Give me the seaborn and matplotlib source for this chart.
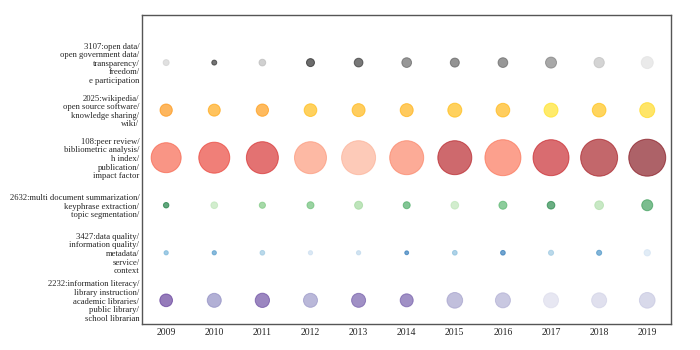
import matplotlib
matplotlib.use("Agg")
import matplotlib.pyplot as plt
import seaborn as sns
import pandas as pd
import numpy as np

years = [2009, 2010, 2011, 2012, 2013, 2014, 2015, 2016, 2017, 2018, 2019]

topic_labels = [
    "3107:open data/\nopen government data/\ntransparency/\nfreedom/\ne participation",
    "2025:wikipedia/\nopen source software/\nknowledge sharing/\nwiki/",
    "108:peer review/\nbibliometric analysis/\nh index/\npublication/\nimpact factor",
    "2632:multi document summarization/\nkeyphrase extraction/\ntopic segmentation/",
    "3427:data quality/\ninformation quality/\nmetadata/\nservice/\ncontext",
    "2232:information literacy/\nlibrary instruction/\nacademic libraries/\npublic library/\nschool librarian",
]
topic_cmaps = ["Greys", "Wistia", "Reds", "Greens", "Blues", "Purples"]

# bubble magnitude (area) per topic per year
freq_3107 = [36, 25, 45, 64, 76, 94, 81, 94, 121, 106, 144]
freq_2025 = [151, 144, 151, 161, 169, 169, 196, 188, 196, 188, 225]
freq_108 = [900, 961, 1024, 1024, 1156, 1156, 1156, 1296, 1296, 1369, 1369]
freq_2632 = [30, 45, 38, 49, 64, 49, 59, 64, 59, 76, 121]
freq_3427 = [18, 18, 22, 18, 18, 15, 22, 22, 26, 26, 40]
freq_2232 = [161, 196, 204, 196, 196, 169, 246, 225, 225, 225, 246]

# colour intensity per topic per year
int_3107 = [0.30, 0.88, 0.40, 0.92, 0.86, 0.72, 0.74, 0.72, 0.62, 0.38, 0.22]
int_2025 = [0.90, 0.75, 0.85, 0.55, 0.60, 0.65, 0.55, 0.60, 0.30, 0.50, 0.35]
int_108 = [0.55, 0.65, 0.72, 0.38, 0.30, 0.45, 0.83, 0.50, 0.77, 0.88, 0.95]
int_2632 = [0.85, 0.30, 0.50, 0.55, 0.40, 0.65, 0.30, 0.60, 0.80, 0.35, 0.70]
int_3427 = [0.50, 0.62, 0.40, 0.25, 0.30, 0.75, 0.45, 0.75, 0.40, 0.65, 0.20]
int_2232 = [0.85, 0.60, 0.80, 0.55, 0.75, 0.75, 0.50, 0.45, 0.25, 0.30, 0.35]

freqs = [freq_3107, freq_2025, freq_108, freq_2632, freq_3427, freq_2232]
intens = [int_3107, int_2025, int_108, int_2632, int_3427, int_2232]

sns.set_style("white")
plt.rcParams["font.family"] = ["Liberation Serif", "DejaVu Serif"]

fig = plt.figure(figsize=(7, 3.5), dpi=100)
ax = fig.add_axes([0.203, 0.074, 0.756, 0.883])

FMAX = 1500
SMAX = FMAX / (100 / 72) ** 2
n = len(topic_labels)
for i, (lab, cmap, fr, it) in enumerate(zip(topic_labels, topic_cmaps, freqs, intens)):
    df = pd.DataFrame({"year": years, "row": n - 1 - i, "freq": fr, "inten": it})
    sns.scatterplot(data=df, x="year", y="row", size="freq", sizes=(0, SMAX),
                    size_norm=(0, FMAX), hue="inten", palette=cmap,
                    hue_norm=(0, 1), alpha=0.63, edgecolor="face",
                    linewidth=0.7, legend=False, ax=ax)

ax.set_xlim(years[0] - 0.5, years[-1] + 0.5)
ax.set_ylim(-0.5, n)
ax.set_xticks(years)
ax.set_xticklabels([str(y) for y in years], fontsize=7)
ax.set_yticks(list(range(n - 1, -1, -1)))
ax.set_yticklabels(topic_labels, fontsize=6.2, linespacing=1.1)
ax.tick_params(axis="both", length=0)
ax.tick_params(axis="y", pad=2)
ax.tick_params(axis="x", pad=3)
ax.set_xlabel("")
ax.set_ylabel("")
for s in ax.spines.values():
    s.set_color("#555555")
    s.set_linewidth(1.0)

fig.savefig("out.png", dpi=100)
